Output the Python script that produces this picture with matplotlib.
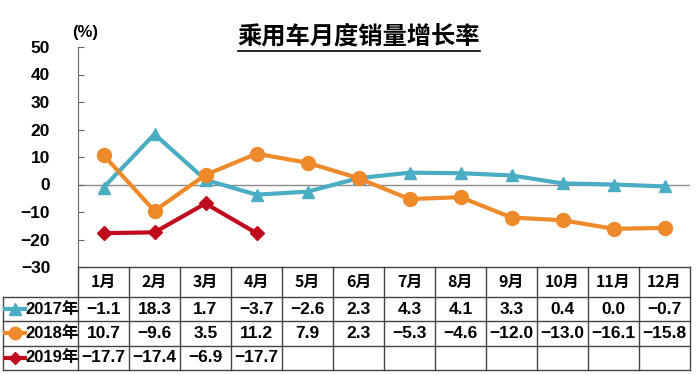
import matplotlib
matplotlib.use('Agg')
import matplotlib.pyplot as plt

plt.rcParams['font.family'] = ['Liberation Sans', 'Noto Sans CJK SC', 'DejaVu Sans']
plt.rcParams['font.weight'] = 'bold'
plt.rcParams['axes.unicode_minus'] = True

# data
months = ['1月', '2月', '3月', '4月', '5月', '6月', '7月', '8月', '9月', '10月', '11月', '12月']
years = ['2017年', '2018年', '2019年']
growth_2017 = [-1.1, 18.3, 1.7, -3.7, -2.6, 2.3, 4.3, 4.1, 3.3, 0.4, 0.0, -0.7]
growth_2018 = [10.7, -9.6, 3.5, 11.2, 7.9, 2.3, -5.3, -4.6, -12.0, -13.0, -16.1, -15.8]
growth_2019 = [-17.7, -17.4, -6.9, -17.7]
series = [growth_2017, growth_2018, growth_2019]

colors = ['#4AADC4', '#EE8A2A', '#C00A1E']
markers = ['^', 'o', 'D']
msizes = [9, 10, 7]

W, H = 700, 375
fig = plt.figure(figsize=(W / 100, H / 100), dpi=100)


def box(l, t, r, b):
    return [l / W, 1 - b / H, (r - l) / W, (b - t) / H]


# line chart
ax = fig.add_axes(box(78, 47, 690, 267))
ax.axhline(0, color='#8c8c8c', lw=1, zorder=0)
for vals, c, m, ms in zip(series, colors, markers, msizes):
    ax.plot(range(len(vals)), vals, color=c, lw=3, marker=m, ms=ms, zorder=3)
ax.set_xlim(-0.5, 11.5)
ax.set_ylim(-30, 50)
ax.set_yticks(range(-30, 51, 10))
ax.set_xticks([])
for s in ['top', 'right', 'bottom']:
    ax.spines[s].set_visible(False)
ax.spines['left'].set_color('#666666')
ax.tick_params(axis='y', direction='in', length=4, color='#666666',
               labelsize=12.5, pad=20)

# data table under the chart
tx = fig.add_axes(box(3, 267, 690, 370))
lab_w = 75 / 51
left = -0.5 - lab_w
edges = [0, 1.23, 2.23, 3.23, 4.23]
tx.set_xlim(left, 11.5)
tx.set_ylim(edges[-1], 0)
tx.axis('off')
gc = '#444444'
for k in range(13):
    tx.plot([k - 0.5, k - 0.5], [0, edges[-1]], color=gc, lw=1, clip_on=False)
tx.plot([left, left], [edges[1], edges[-1]], color=gc, lw=1, clip_on=False)
tx.plot([-0.5, 11.5], [0, 0], color=gc, lw=1, clip_on=False)
for e in edges[1:]:
    tx.plot([left, 11.5], [e, e], color=gc, lw=1, clip_on=False)

for i, mth in enumerate(months):
    tx.text(i, edges[1] / 2, mth, ha='center', va='center', fontsize=11.5,
            family=['Noto Sans CJK SC'], weight='bold')


def fmt(v):
    return ('%.1f' % abs(v)) if v >= 0 else '\u2212%.1f' % abs(v)


for r, (yr, vals, c, m, ms) in enumerate(zip(years, series, colors, markers, msizes)):
    yc = (edges[r + 1] + edges[r + 2]) / 2
    tx.plot([left + 0.04, left + 0.44], [yc, yc], color=c, lw=3, clip_on=False)
    tx.plot([left + 0.24], [yc], color=c, marker=m, ms=ms - 1, clip_on=False)
    tx.text(left + 0.43, yc, yr, ha='left', va='center', fontsize=12)
    for i, v in enumerate(vals):
        tx.text(i, yc, fmt(v), ha='center', va='center', fontsize=12.5)

# title and unit
title = fig.text(359 / W, 1 - 37 / H, '乘用车月度销量增长率', ha='center', va='center',
                 fontsize=17.5, family=['Noto Sans CJK SC'], weight='bold')
fig.text(85 / W, 1 - 33 / H, '(%)', ha='center', va='center', fontsize=12)

fig.canvas.draw()
bb = title.get_window_extent().transformed(fig.transFigure.inverted())
fig.add_artist(plt.Line2D([bb.x0, bb.x1], [bb.y0 - 0.004, bb.y0 - 0.004],
                          color='black', lw=1.2, transform=fig.transFigure))

fig.savefig('out.png', dpi=100)
